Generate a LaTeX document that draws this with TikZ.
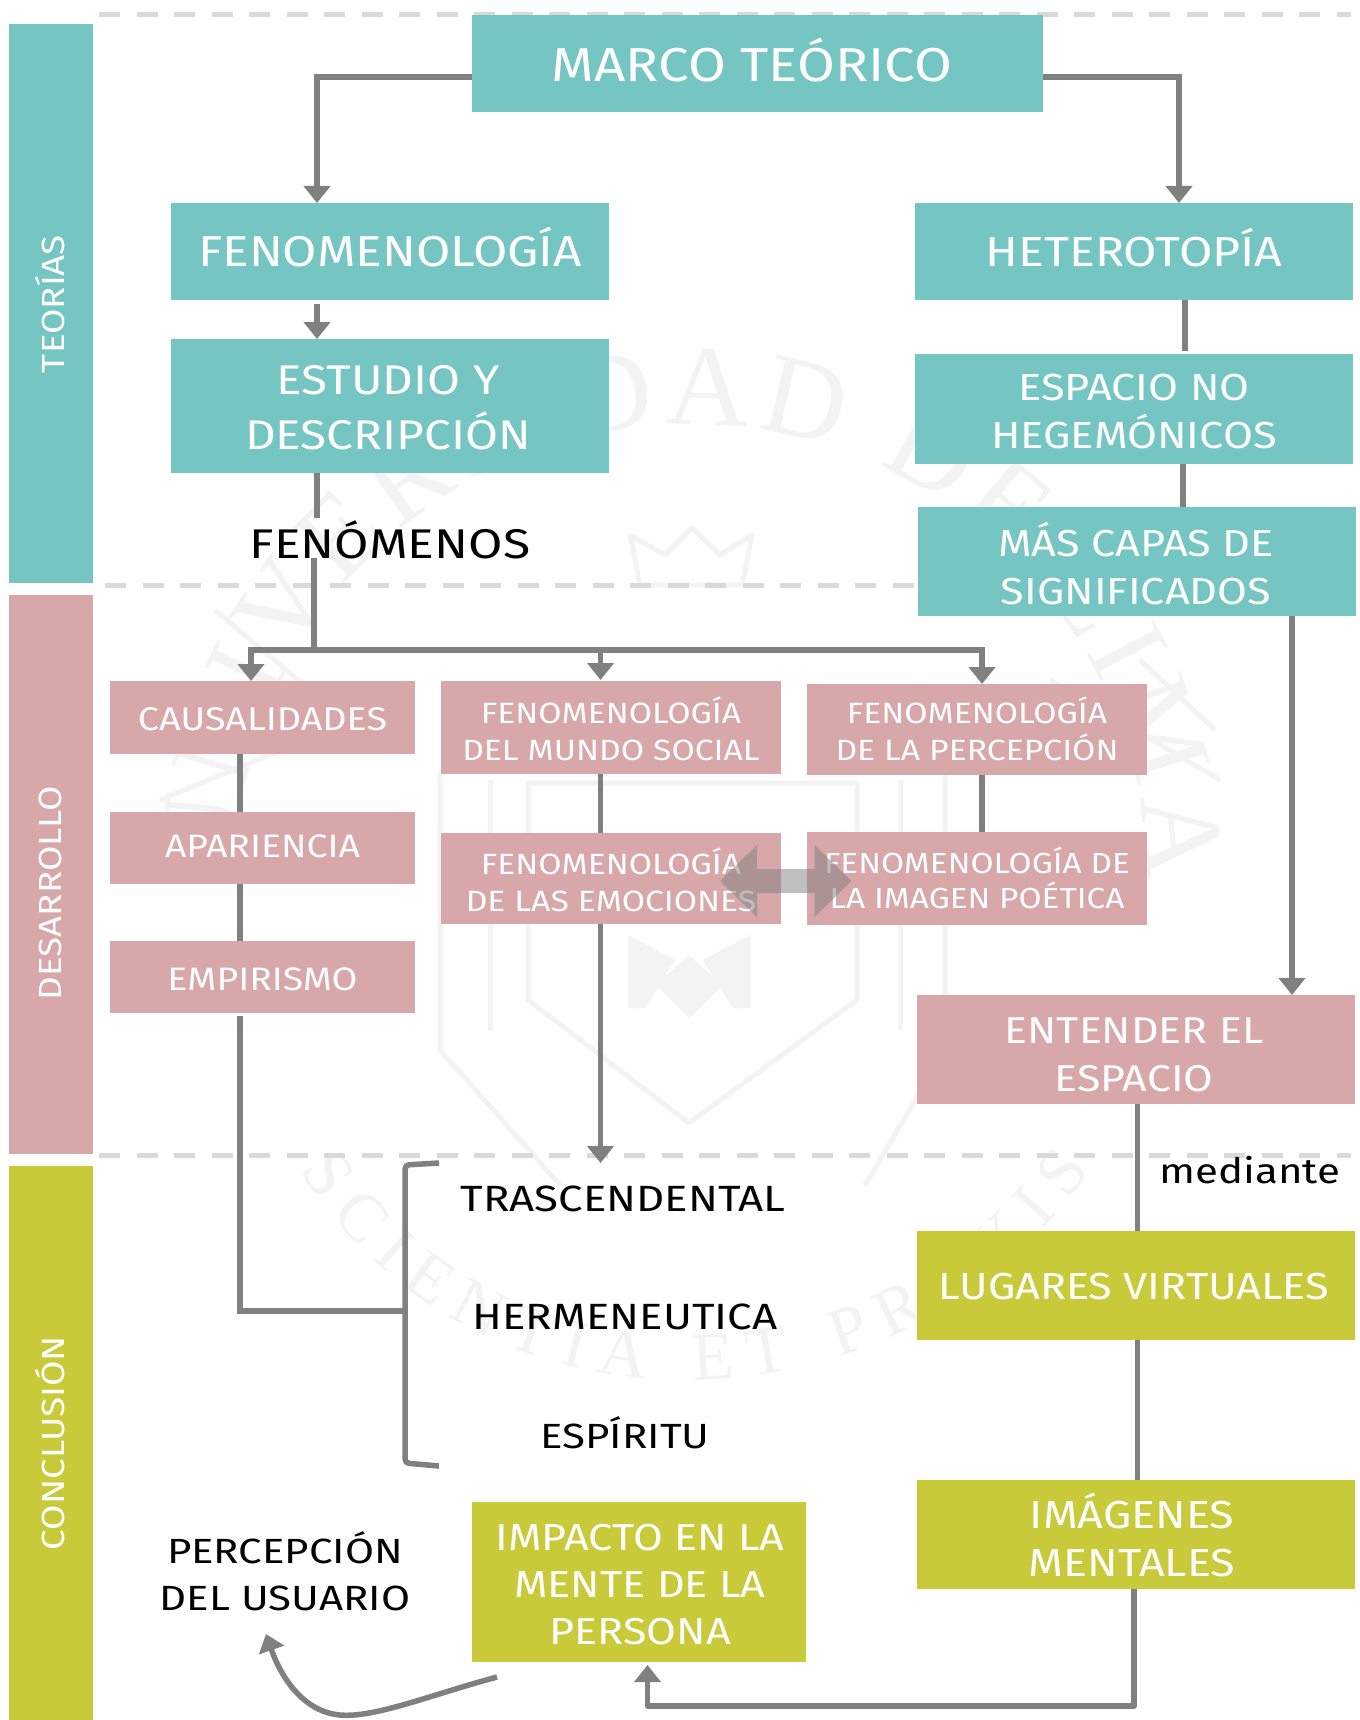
\documentclass[tikz,border=0pt]{standalone}
\usepackage{fontspec}
\setmainfont{Fira Sans}[FakeStretch=1.15]
\newfontfamily\blk{Fira Sans}[FakeStretch=1.2]
\newfontfamily\wmfont{Liberation Serif}
\definecolor{teal}{HTML}{75C5C3}
\definecolor{rosa}{HTML}{D8A7AA}
\definecolor{oliva}{HTML}{C9CA3A}
\definecolor{linea}{HTML}{808080}
\definecolor{dash}{HTML}{D9D9D9}
\definecolor{wm}{HTML}{F3F3F3}
\usetikzlibrary{arrows.meta,decorations.text}
\tikzset{
 box/.style={inner sep=0pt,outer sep=0pt},
 lbl/.style 2 args={font=\fontsize{#1}{#2}\selectfont,text=white,align=center,inner sep=0pt},
 conn/.style={draw=linea,line width=5.5pt},
 arr/.style={conn,-{Triangle[length=17pt,width=26pt]}},
 sep/.style={draw=dash,line width=5pt,dash pattern=on 21pt off 16.5pt},
 blacktxt/.style={text=black,align=center,inner sep=0pt},
 side/.style={text=white,rotate=90,inner sep=0pt,font=\fontsize{32}{32}\selectfont},
 wml/.style={draw=wm,line width=5pt,line join=round},
}
\begin{document}
\begin{tikzpicture}[x=1pt,y=-1pt]
\useasboundingbox (0,0) rectangle (1359,1720);
\fill[white] (0,0) rectangle (1359,1720);
% watermark
\path[decorate,decoration={text along path,text align={fit to path},
  text={|\wmfont\fontsize{115}{115}\selectfont\color{wm}|UNIVERSIDAD DE LIMA}}]
  (236,880) arc[start angle=180,end angle=360,radius=455];
\path[decorate,decoration={text along path,text align={fit to path},
  text={|\wmfont\fontsize{68}{68}\selectfont\color{wm}|SCIENTIA ET PRAXIS}}]
  (300,1170) .. controls (470,1450) and (900,1450) .. (1090,1170);
\draw[wml] (528,783) -- (857,783) -- (857,1000) -- (689,1123) -- (528,1000) -- cycle;
\draw[wml] (440,770) -- (440,1050) -- (560,1185);
\draw[wml] (945,770) -- (945,1050) -- (865,1185);
\draw[wml] (490,780) -- (490,1030);
\draw[wml] (900,780) -- (900,1030);
\fill[wm] (689,955) -- (722,985) -- (689,1018) -- (656,985) -- cycle;
\fill[wm] (628,935) -- (675,960) -- (645,1008) -- (628,1008) -- cycle;
\fill[wm] (750,935) -- (703,960) -- (733,1008) -- (750,1008) -- cycle;
\draw[wml] (640,585) -- (630,535) -- (665,555) -- (692,528) -- (720,555) -- (752,535) -- (742,585) -- cycle;
\draw[wml] (215,610) -- (310,690);
\draw[wml] (160,800) -- (330,730);
\draw[wml] (1140,660) -- (1215,730);
\draw[wml] (1050,680) -- (1220,780);
% separators
\draw[sep] (99,14.5) -- (1351,14.5);
\draw[sep] (105,585) -- (1351,585);
\draw[sep] (99,1155) -- (1351,1155);
% side bars
\fill[teal] (8.5,24) rectangle (92.5,583);
\fill[rosa] (8.5,595) rectangle (92.5,1154);
\fill[oliva] (8.5,1166) rectangle (92.5,1720);
\node[side] (tt) at (50,304) {TEORÍAS};
\node[side] (td) at (50,893) {DESARROLLO};
\node[side] (tc) at (50,1443) {CONCLUSIÓN};
% boxes
\node[fill=teal,box,minimum width=571pt,minimum height=97pt,label={[lbl={47.6}{47.6},xshift=-5.5pt,yshift=3.5pt]center:MARCO TEÓRICO}] (marco) at (757.5,63.5) {};
\node[fill=teal,box,minimum width=438pt,minimum height=97pt,label={[lbl={43.2}{43.2},yshift=4.5pt]center:FENOMENOLOGÍA}] (fen) at (390,251.5) {};
\node[fill=teal,box,minimum width=438pt,minimum height=134pt,label={[lbl={41.5}{55},xshift=-2pt,yshift=-1.5pt]center:ESTUDIO Y\\DESCRIPCIÓN}] (est) at (390,406) {};
\node[fill=teal,box,minimum width=438pt,minimum height=97pt,label={[lbl={42}{42},yshift=4pt]center:HETEROTOPÍA}] (het) at (1134,251.5) {};
\node[fill=teal,box,minimum width=438pt,minimum height=110pt,label={[lbl={37.7}{48},yshift=-3pt]center:ESPACIO NO\\HEGEMÓNICOS}] (esp) at (1134,409) {};
\node[fill=teal,box,minimum width=438pt,minimum height=109pt,label={[lbl={37.6}{48},xshift=-1pt,yshift=-2.5pt]center:MÁS CAPAS DE\\SIGNIFICADOS}] (mas) at (1137,561.5) {};
\node[fill=rosa,box,minimum width=305pt,minimum height=73pt,label={[lbl={32.8}{32.8},yshift=-1.5pt]center:CAUSALIDADES}] (cau) at (262.5,717.5) {};
\node[fill=rosa,box,minimum width=305pt,minimum height=72pt,label={[lbl={32.5}{32.5},yshift=2pt]center:APARIENCIA}] (apa) at (262.5,848) {};
\node[fill=rosa,box,minimum width=305pt,minimum height=72pt,label={[lbl={32.5}{32.5},yshift=-2pt]center:EMPIRISMO}] (emp) at (262.5,977) {};
\node[fill=rosa,box,minimum width=340pt,minimum height=93pt,label={[lbl={29.3}{36.5},yshift=-1.5pt]center:FENOMENOLOGÍA\\DEL MUNDO SOCIAL}] (soc) at (611,727.5) {};
\node[fill=rosa,box,minimum width=340pt,minimum height=91pt,label={[lbl={29.3}{36.5},yshift=.5pt]center:FENOMENOLOGÍA\\DE LA PERCEPCIÓN}] (per) at (977,729.5) {};
\node[fill=rosa,box,minimum width=340pt,minimum height=91pt,label={[lbl={29.3}{36.5},yshift=-1.5pt]center:FENOMENOLOGÍA\\DE LAS EMOCIONES}] (emo) at (611,878.5) {};
\node[fill=rosa,box,minimum width=340pt,minimum height=93pt,label={[lbl={29}{35},yshift=.5pt]center:FENOMENOLOGÍA DE\\LA IMAGEN POÉTICA}] (ima) at (977,878.5) {};
\node[fill=rosa,box,minimum width=438pt,minimum height=109pt,label={[lbl={37.3}{48},xshift=-2pt,yshift=-5.5pt]center:ENTENDER EL\\ESPACIO}] (ent) at (1136,1049.5) {};
\node[fill=oliva,box,minimum width=438pt,minimum height=109pt,label={[lbl={37.6}{37.6},xshift=-2pt,yshift=-1.5pt]center:LUGARES VIRTUALES}] (lug) at (1136,1285.5) {};
\node[fill=oliva,box,minimum width=438pt,minimum height=109pt,label={[lbl={39}{48},xshift=-4pt,yshift=-.5pt]center:IMÁGENES\\MENTALES}] (men) at (1136,1534.5) {};
\node[fill=oliva,box,minimum width=334pt,minimum height=160pt,label={[lbl={37.5}{47},xshift=1pt,yshift=-3pt]center:IMPACTO EN LA\\MENTE DE LA\\PERSONA}] (imp) at (639,1582) {};
% black labels
\node[blacktxt,font=\blk\fontsize{41.5}{41.5}\selectfont] (fmn) at (390,540) {FENÓMENOS};
\node[blacktxt,font=\blk\fontsize{36.5}{36.5}\selectfont] (tra) at (623,1198.5) {TRASCENDENTAL};
\node[blacktxt,font=\blk\fontsize{36.5}{36.5}\selectfont] (her) at (625,1316.5) {HERMENEUTICA};
\node[blacktxt,font=\blk\fontsize{35}{35}\selectfont] (esi) at (625,1432.5) {ESPÍRITU};
\node[blacktxt,font=\blk\fontsize{35}{47.5}\selectfont] (usu) at (285,1571) {PERCEPCIÓN\\DEL USUARIO};
\node[blacktxt,font=\blk\fontsize{35}{35}\selectfont] (med) at (1250,1170) {mediante};
% connectors
\coordinate (fa) at (317,518);
\coordinate (fb) at (314,558);
\coordinate (bus) at (314,650);
\coordinate (busm) at (600.5,650);
\coordinate (brt) at (439,1163);
\coordinate (brb) at (439,1466);
\coordinate (brm) at (403,1311);
\coordinate (curveA) at (497,1677);
\coordinate (curveB) at (266,1634);
\draw[arr] (marco.west |- 0,77) -| (317,0 |- fen.north);
\draw[arr] (marco.east |- 0,77) -| (1179,0 |- het.north);
\draw[arr,shorten <=4pt] (317,0 |- fen.south) -- (317,0 |- est.north);
\draw[conn] (317,0 |- est.south) -- (fa);
\draw[conn] (fb) -- (bus);
\draw[arr] (bus) -| (251,0 |- cau.north);
\draw[arr] (bus) -| (982,0 |- per.north);
\draw[arr] (busm) -- (600.5,680);
\draw[conn] (240,0 |- cau.south) -- (240,0 |- apa.north);
\draw[conn] (240,0 |- apa.south) -- (240,0 |- emp.north);
\draw[conn,shorten <=3pt] (240,0 |- emp.south) |- (brm);
\draw[conn,rounded corners=4pt] (brt) -- (405,1165) -- (405,1463) -- (brb);
\draw[conn] (600.5,0 |- soc.south) -- (600.5,0 |- emo.north);
\draw[arr] (600.5,0 |- emo.south) -- (600.5,1163);
\draw[conn] (982,0 |- per.south) -- (982,0 |- ima.north);
\draw[conn,shorten >=3pt] (1185,0 |- het.south) -- (1185,0 |- esp.north);
\draw[conn] (1183,0 |- esp.south) -- (1183,0 |- mas.north);
\draw[arr] (1292,0 |- mas.south) -- (1292,0 |- ent.north);
\draw[conn] (1137.5,0 |- ent.south) -- (1137.5,0 |- lug.north);
\draw[conn] (1137.5,0 |- lug.south) -- (1137.5,0 |- men.north);
\draw[arr,line join=round] (1134,0 |- men.south) -- (1134,1706) -- (647.5,1706) -- (647.5,1665);
\draw[arr] (curveA) .. controls (430,1695) and (375,1718) .. (340,1715) .. controls (305,1712) and (282,1680) .. (curveB);
% double arrow between emotions and poetic image
\fill[linea,opacity=.5] (720,881) -- (757,845) -- (757,869) -- (814.5,869) -- (814.5,845) -- (851.5,881) -- (814.5,917) -- (814.5,893) -- (757,893) -- (757,917) -- cycle;
\end{tikzpicture}
\end{document}
